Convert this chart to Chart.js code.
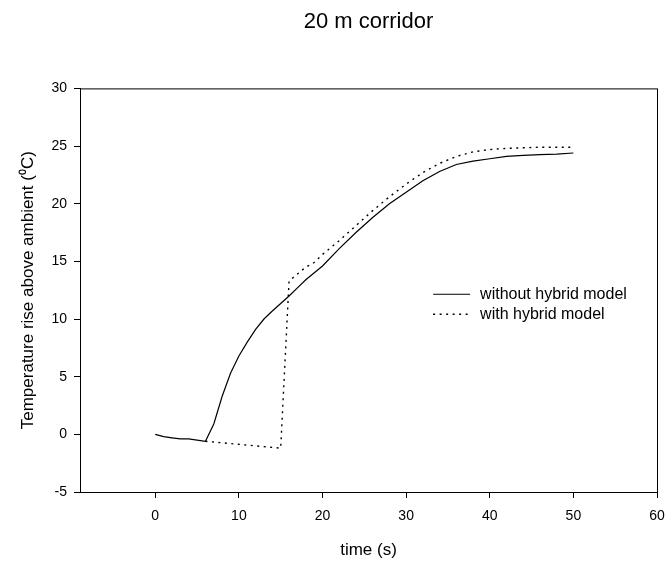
<!DOCTYPE html>
<html>
<head>
<meta charset="utf-8">
<script src="https://cdn.jsdelivr.net/npm/chart.js@4"></script>
<style>
    html, body { margin: 0; padding: 0; background: #fff; }
    #wrap { width: 669px; height: 564px; }
</style>
</head>
<body>
<div id="wrap"><canvas id="g_corridor" width="669" height="564"></canvas></div>
<script>
// temps (s)
const timeWithout = [0, 1, 2, 3, 4, 5, 6, 7, 8, 9, 10, 11, 12, 13, 14, 15, 16, 17, 18, 20, 22, 24, 26, 28, 30, 32, 34, 36, 38, 40, 42, 44, 46, 48, 50];
const tempWithout = [0, -0.2, -0.3, -0.4, -0.4, -0.5, -0.6, 0.9, 3.3, 5.3, 6.8, 8.0, 9.1, 10.0, 10.7, 11.35, 12.0, 12.7, 13.4, 14.6, 16.1, 17.5, 18.8, 20.0, 21.0, 22.0, 22.8, 23.4, 23.7, 23.9, 24.1, 24.2, 24.25, 24.3, 24.4];
const timeWith = [6, 15, 16, 17, 18, 19, 20, 22, 24, 26, 28, 30, 32, 34, 36, 38, 40, 42, 44, 46, 48, 50];
const tempWith = [-0.6, -1.2, 13.3, 13.9, 14.5, 14.9, 15.6, 16.8, 18.1, 19.4, 20.6, 21.7, 22.7, 23.5, 24.1, 24.5, 24.7, 24.8, 24.85, 24.9, 24.9, 24.9];
const xTicks = [0, 10, 20, 30, 40, 50, 60];
const yTicks = [-5, 0, 5, 10, 15, 20, 25, 30];
const seriesNames = ["without hybrid model", "with hybrid model"];

function toPoints(xs, ys) {
    return xs.map(function(x, i) {
        return {x: x, y: ys[i]};
    });
}

// cadre + légende dans la zone du graphe
const boxLegend = {
    id: 'boxLegend',
    afterDraw(chart) {
        const ctx = chart.ctx;
        const a = chart.chartArea;
        ctx.save();
        ctx.strokeStyle = '#000';
        ctx.lineWidth = 1;
        ctx.strokeRect(a.left + 0.5, a.top + 0.5, a.right - a.left, a.bottom - a.top);
        const lx = a.left + (a.right - a.left) * 0.612;
        let ly = a.top + (a.bottom - a.top) * 0.51;
        ctx.font = '16px "Liberation Sans", Arial, sans-serif';
        ctx.textBaseline = 'middle';
        ctx.fillStyle = '#000';
        chart.data.datasets.forEach(function(ds) {
            ctx.beginPath();
            ctx.setLineDash(ds.borderDash || []);
            ctx.lineWidth = ds.borderWidth;
            ctx.moveTo(lx, ly);
            ctx.lineTo(lx + 37, ly);
            ctx.stroke();
            ctx.setLineDash([]);
            ctx.fillText(ds.label, lx + 47, ly);
            ly += 20;
        });
        ctx.restore();
    }
};

window.addEventListener('load', () => {
    const ctx = document.getElementById("g_corridor").getContext("2d");
    const font = '"Liberation Sans", Arial, sans-serif';
    const config = {
        type: 'line',
        data: {
            datasets: [{
                label: seriesNames[0],
                data: toPoints(timeWithout, tempWithout),
                borderColor: '#000',
                borderWidth: 1.2,
                pointRadius: 0,
                tension: 0
            }, {
                label: seriesNames[1],
                data: toPoints(timeWith, tempWith),
                borderColor: '#000',
                borderWidth: 1.4,
                borderDash: [2, 4.5],
                pointRadius: 0,
                tension: 0
            }]
        },
        options: {
            responsive: false,
            animation: false,
            layout: { padding: { left: 0, right: 12, top: 0, bottom: 0 } },
            plugins: {
                legend: { display: false },
                tooltip: { enabled: false },
                title: {
                    display: true,
                    fullSize: false,
                    text: '20 m corridor',
                    color: '#000',
                    font: { family: font, size: 22, weight: 'normal' },
                    padding: { top: 9, bottom: 53 }
                }
            },
            scales: {
                x: {
                    type: 'linear',
                    min: -9,
                    max: 60,
                    afterBuildTicks: function(axis) {
                        axis.ticks = xTicks.map(function(v) { return {value: v}; });
                    },
                    afterFit: function(scale) {
                        scale.height = 72;
                        scale.paddingRight = 0;
                        scale.paddingLeft = 0;
                    },
                    grid: { display: true, drawOnChartArea: false, drawTicks: true, tickLength: 6, color: '#000' },
                    border: { display: true, color: '#000' },
                    ticks: { color: '#000', padding: 10, maxRotation: 0, font: { family: font, size: 14 } },
                    title: {
                        display: true,
                        text: 'time (s)',
                        color: '#000',
                        font: { family: font, size: 17 },
                        padding: { top: 0, bottom: 3 }
                    }
                },
                y: {
                    type: 'linear',
                    min: -5,
                    max: 30,
                    afterBuildTicks: function(axis) {
                        axis.ticks = yTicks.map(function(v) { return {value: v}; });
                    },
                    afterFit: function(scale) { scale.width = 80; },
                    grid: { display: true, drawOnChartArea: false, drawTicks: true, tickLength: 6, color: '#000' },
                    border: { display: true, color: '#000' },
                    ticks: { color: '#000', padding: 7, font: { family: font, size: 14 } },
                    title: {
                        display: true,
                        text: 'Temperature rise above ambient (\u2070C)',
                        color: '#000',
                        font: { family: font, size: 17 },
                        padding: { top: 18, bottom: 0 }
                    }
                }
            }
        },
        plugins: [boxLegend]
    };
    new Chart(ctx, config);
});
</script>
</body>
</html>
